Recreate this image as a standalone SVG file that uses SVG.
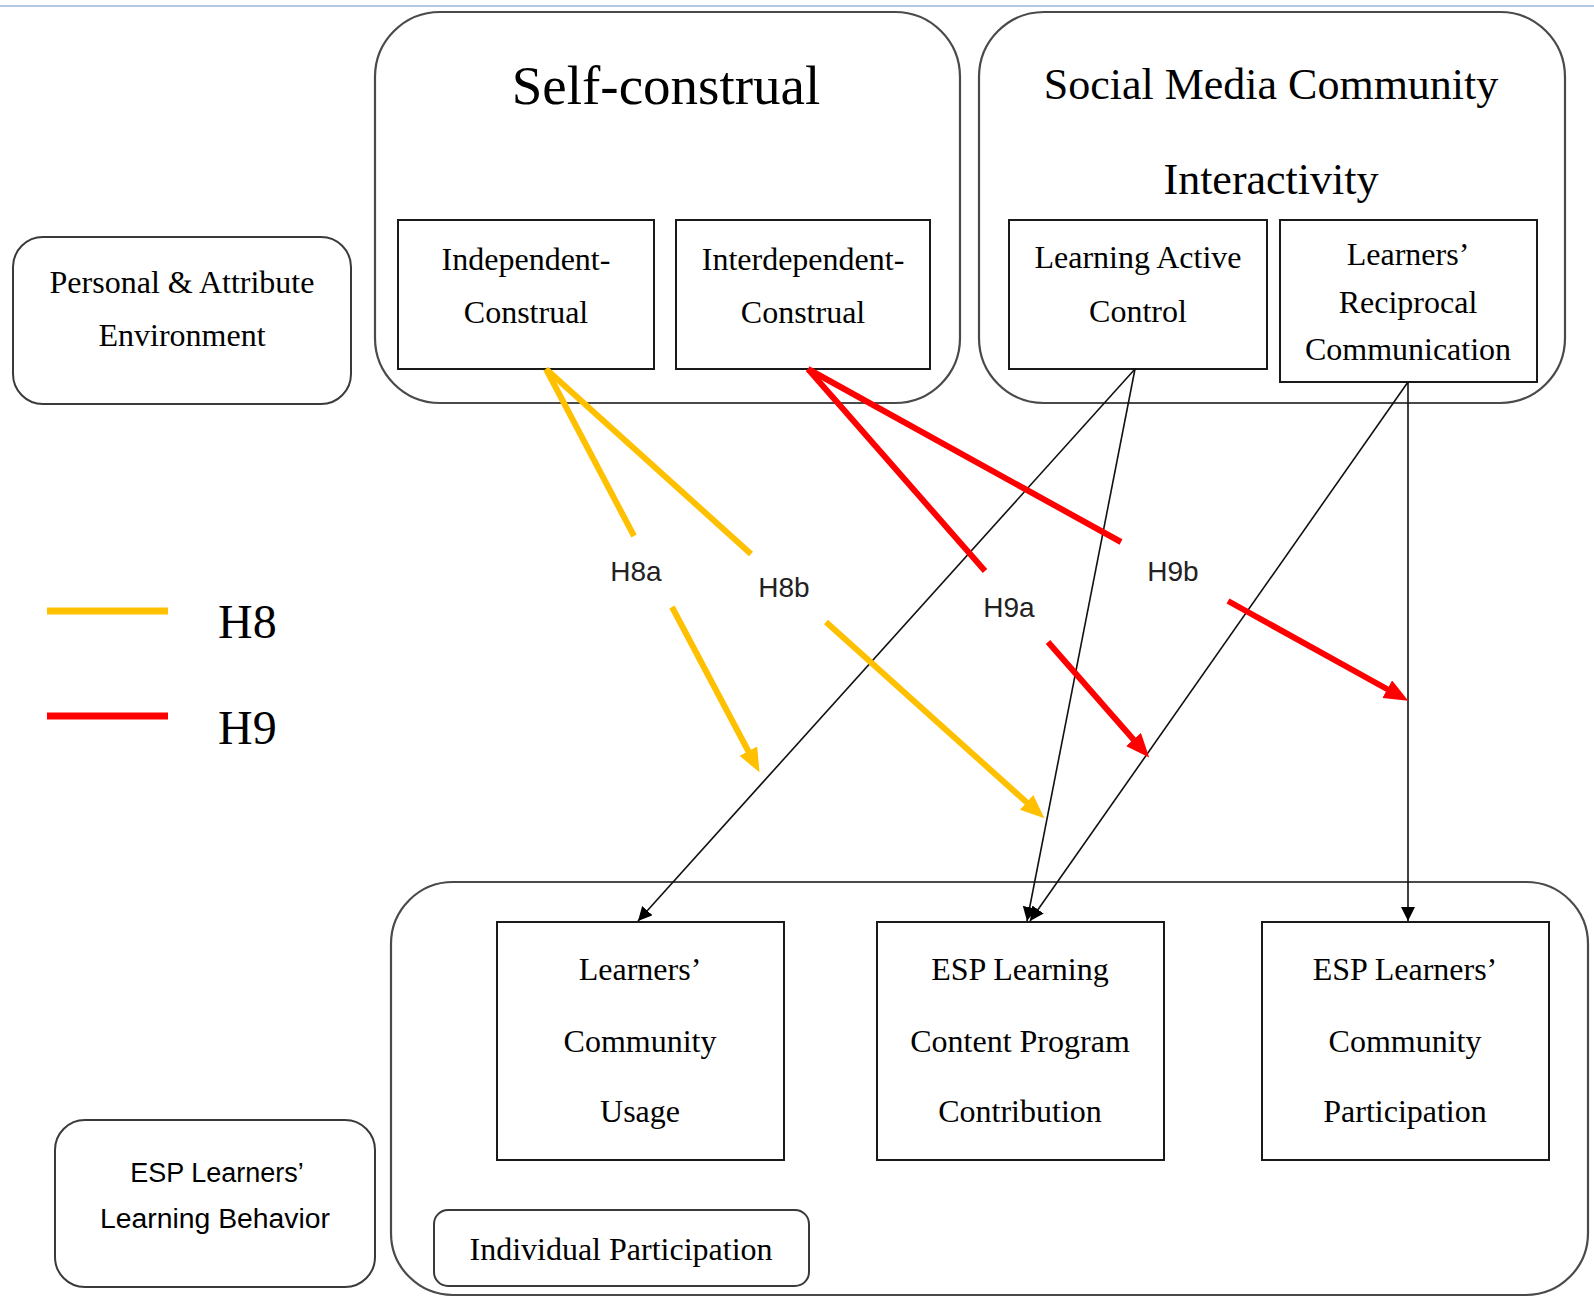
<svg xmlns="http://www.w3.org/2000/svg" width="1594" height="1297" viewBox="0 0 1594 1297">
  <style>
    .serif { font-family: "Liberation Serif", "Times New Roman", serif; fill: #000; text-anchor: middle; }
    .sans { font-family: "Liberation Sans", Arial, sans-serif; fill: #000; text-anchor: middle; }
    .label { font-family: "Liberation Sans", Arial, sans-serif; font-size: 28px; fill: #222; text-anchor: middle; }
    .group { fill: none; stroke: #4a4a4a; stroke-width: 2.2; }
    .box { fill: #fff; stroke: #1a1a1a; stroke-width: 2; }
    .rbox { fill: #fff; stroke: #3a3a3a; stroke-width: 2; }
    .h8 { stroke: #FFC000; stroke-width: 6; fill: none; }
    .h9 { stroke: #FF0000; stroke-width: 6; fill: none; }
    .link { stroke: #111; stroke-width: 1.6; fill: none; }
  </style>
  <defs>
    <marker id="arrowY" markerUnits="userSpaceOnUse" markerWidth="26" markerHeight="22" refX="10" refY="10" orient="auto">
      <path d="M0,0 L24,10 L0,20 Z" fill="#FFC000"/>
    </marker>
    <marker id="arrowR" markerUnits="userSpaceOnUse" markerWidth="26" markerHeight="22" refX="10" refY="10" orient="auto">
      <path d="M0,0 L24,10 L0,20 Z" fill="#FF0000"/>
    </marker>
    <marker id="arrowK" markerUnits="userSpaceOnUse" markerWidth="16" markerHeight="16" refX="14" refY="7" orient="auto">
      <path d="M0,0 L14,7 L0,14 Z" fill="#000"/>
    </marker>
  </defs>

  <rect width="1594" height="1297" fill="#fff"/>
  <!-- thin rule along the top -->
  <line x1="0" y1="6" x2="1594" y2="6" stroke="#b4c8e6" stroke-width="2"/>

  <!-- outer groupings -->
  <g id="self-construal">
    <rect class="group" x="375" y="12" width="585" height="391" rx="65" ry="65"/>
    <text class="serif" x="666" y="104" font-size="55">Self-construal</text>
  </g>
  <g id="social-media-interactivity">
    <rect class="group" x="979" y="12" width="586" height="391" rx="65" ry="65"/>
    <text class="serif" x="1271" y="99" font-size="44">Social Media Community</text>
    <text class="serif" x="1271" y="194" font-size="44">Interactivity</text>
  </g>
  <g id="learning-behavior-group">
    <rect class="group" x="391" y="882" width="1197" height="413" rx="62" ry="62"/>
  </g>

  <!-- side labels -->
  <g id="personal-attribute">
    <rect class="rbox" x="13" y="237" width="338" height="167" rx="30" ry="30"/>
    <text class="serif" x="182" y="293" font-size="32">Personal &amp; Attribute</text>
    <text class="serif" x="182" y="346" font-size="32">Environment</text>
  </g>
  <g id="esp-learning-behavior">
    <rect class="rbox" x="55" y="1120" width="320" height="167" rx="30" ry="30"/>
    <text class="sans" x="217" y="1182" font-size="27">ESP Learners’</text>
    <text class="sans" x="215" y="1228" font-size="27" textLength="230" lengthAdjust="spacingAndGlyphs">Learning Behavior</text>
  </g>
  <g id="individual-participation">
    <rect class="rbox" x="434" y="1210" width="375" height="76" rx="14" ry="14"/>
    <text class="serif" x="621" y="1260" font-size="32">Individual Participation</text>
  </g>

  <!-- construct boxes -->
  <g id="independent-construal">
    <rect class="box" x="398" y="220" width="256" height="149"/>
    <text class="serif" x="526" y="270" font-size="32">Independent-</text>
    <text class="serif" x="526" y="323" font-size="32">Construal</text>
  </g>
  <g id="interdependent-construal">
    <rect class="box" x="676" y="220" width="254" height="149"/>
    <text class="serif" x="803" y="270" font-size="32">Interdependent-</text>
    <text class="serif" x="803" y="323" font-size="32">Construal</text>
  </g>
  <g id="learning-active-control">
    <rect class="box" x="1009" y="220" width="258" height="149"/>
    <text class="serif" x="1138" y="268" font-size="32">Learning Active</text>
    <text class="serif" x="1138" y="322" font-size="32">Control</text>
  </g>
  <g id="reciprocal-communication">
    <rect class="box" x="1280" y="220" width="257" height="162"/>
    <text class="serif" x="1408" y="265" font-size="32">Learners’</text>
    <text class="serif" x="1408" y="313" font-size="32">Reciprocal</text>
    <text class="serif" x="1408" y="360" font-size="32">Communication</text>
  </g>
  <g id="community-usage">
    <rect class="box" x="497" y="922" width="287" height="238"/>
    <text class="serif" x="640" y="980" font-size="32">Learners’</text>
    <text class="serif" x="640" y="1052" font-size="32">Community</text>
    <text class="serif" x="640" y="1122" font-size="32">Usage</text>
  </g>
  <g id="content-contribution">
    <rect class="box" x="877" y="922" width="287" height="238"/>
    <text class="serif" x="1020" y="980" font-size="32">ESP Learning</text>
    <text class="serif" x="1020" y="1052" font-size="32">Content Program</text>
    <text class="serif" x="1020" y="1122" font-size="32">Contribution</text>
  </g>
  <g id="community-participation">
    <rect class="box" x="1262" y="922" width="287" height="238"/>
    <text class="serif" x="1405" y="980" font-size="32">ESP Learners’</text>
    <text class="serif" x="1405" y="1052" font-size="32">Community</text>
    <text class="serif" x="1405" y="1122" font-size="32">Participation</text>
  </g>

  <!-- legend -->
  <g id="legend">
    <line x1="47" y1="611" x2="168" y2="611" stroke="#FFC000" stroke-width="7"/>
    <text class="serif" x="218" y="638" font-size="48" style="text-anchor:start">H8</text>
    <line x1="47" y1="716" x2="168" y2="716" stroke="#FF0000" stroke-width="7"/>
    <text class="serif" x="218" y="744" font-size="48" style="text-anchor:start">H9</text>
  </g>

  <!-- connectors -->
  <g id="connectors">
    <!-- interactivity paths -->
    <line class="link" x1="1135" y1="369" x2="638" y2="921" marker-end="url(#arrowK)"/>
    <line class="link" x1="1135" y1="369" x2="1027" y2="921" marker-end="url(#arrowK)"/>
    <line class="link" x1="1408" y1="382" x2="1030" y2="921" marker-end="url(#arrowK)"/>
    <line class="link" x1="1408" y1="382" x2="1408" y2="921" marker-end="url(#arrowK)"/>

    <!-- H8a -->
    <line class="h8" x1="546" y1="369" x2="634" y2="536"/>
    <line class="h8" x1="672" y1="607" x2="753" y2="760" marker-end="url(#arrowY)"/>
    <text class="label" x="636" y="581">H8a</text>
    <!-- H8b -->
    <line class="h8" x1="546" y1="369" x2="751" y2="554"/>
    <line class="h8" x1="826" y1="622" x2="1034" y2="809" marker-end="url(#arrowY)"/>
    <text class="label" x="784" y="597">H8b</text>
    <!-- H9a -->
    <line class="h9" x1="808" y1="369" x2="985" y2="571"/>
    <line class="h9" x1="1048" y1="642" x2="1140" y2="747" marker-end="url(#arrowR)"/>
    <text class="label" x="1009" y="617">H9a</text>
    <!-- H9b -->
    <line class="h9" x1="808" y1="369" x2="1121" y2="542"/>
    <line class="h9" x1="1228" y1="601" x2="1396" y2="694" marker-end="url(#arrowR)"/>
    <text class="label" x="1173" y="581">H9b</text>
  </g>
</svg>
